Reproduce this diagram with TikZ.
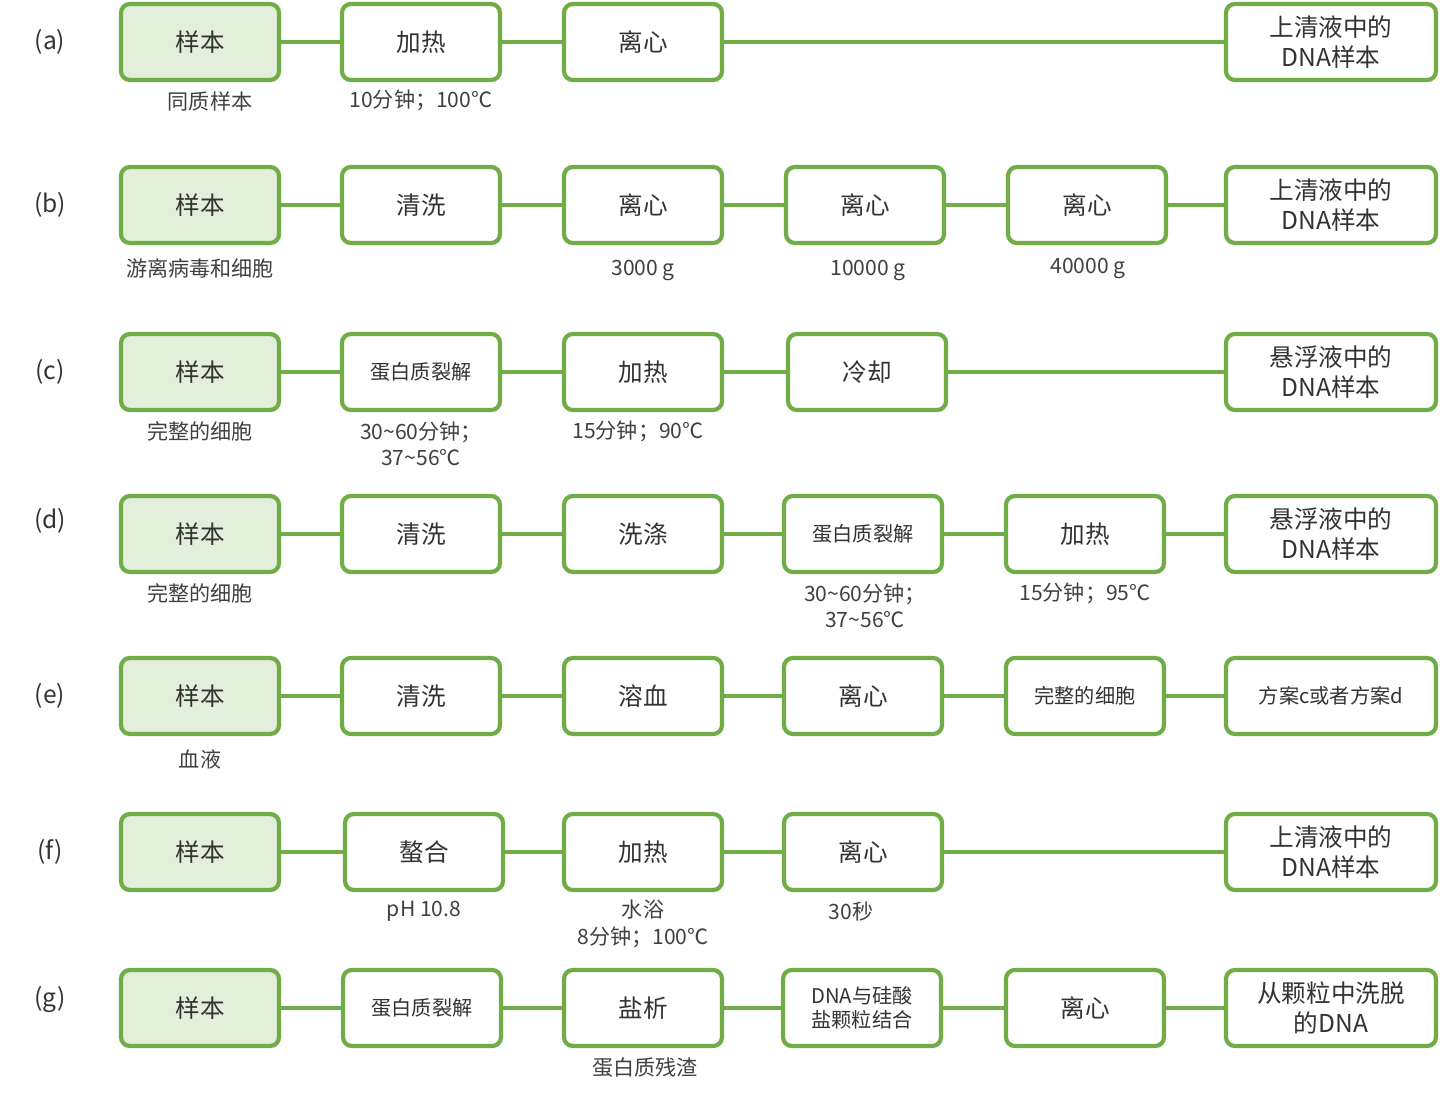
\documentclass[tikz,border=0pt]{standalone}
\usepackage{fontspec}
\setmainfont{Noto Sans CJK SC}
\usetikzlibrary{positioning}
\definecolor{stepgreen}{RGB}{112,173,71}
\definecolor{startfill}{RGB}{226,239,218}
\tikzset{
    stage/.style={draw=stepgreen, line width=2.4pt, rounded corners=5pt, fill=white,
        minimum width=3.16cm, minimum height=1.52cm, align=center, font=\fontsize{14}{16}\selectfont, text=black!80},
    small/.style={font=\fontsize{11.5}{13.5}\selectfont},
    start/.style={stage, fill=startfill},
    last/.style={stage, minimum width=4.2cm, font=\fontsize{14}{16.8}\selectfont},
    lbl/.style={align=center, font=\fontsize{12}{15}\selectfont, text=black!75},
    tag/.style={font=\fontsize{14}{16}\selectfont, text=black!80},
    link/.style={draw=stepgreen, line width=2.4pt}
}
\begin{document}
\begin{tikzpicture}[x=0.02cm, y=-0.02cm]
\useasboundingbox (0,0) rectangle (1440,1095);
% (a)
\node[tag] (ta) at (50,42) {(a)};
\node[start] (a1) at (200,42) {样本};
\node[stage] (a2) at (421,42) {加热};
\node[stage] (a3) at (643,42) {离心};
\node[last] (a6) at (1331,42) {上清液中的\\DNA样本};
\node[lbl] (la1) at (210,101) {同质样本};
\node[lbl] (la2) at (421,100) {10分钟；100℃};
\draw[link] (a1) -- (a2) (a2) -- (a3) (a3) -- (a6);
% (b)
\node[tag] (tb) at (50,205) {(b)};
\node[start] (b1) at (200,205) {样本};
\node[stage] (b2) at (421,205) {清洗};
\node[stage] (b3) at (643,205) {离心};
\node[stage] (b4) at (865,205) {离心};
\node[stage] (b5) at (1087,205) {离心};
\node[last] (b6) at (1331,205) {上清液中的\\DNA样本};
\node[lbl] (lb1) at (200,268) {游离病毒和细胞};
\node[lbl] (lb3) at (643,270) {3000 g};
\node[lbl] (lb4) at (868,270) {10000 g};
\node[lbl] (lb5) at (1088,268) {40000 g};
\draw[link] (b1) -- (b2) (b2) -- (b3) (b3) -- (b4) (b4) -- (b5) (b5) -- (b6);
% (c)
\node[tag] (tc) at (50,372) {(c)};
\node[start] (c1) at (200,372) {样本};
\node[stage, small] (c2) at (421,372) {蛋白质裂解};
\node[stage] (c3) at (643,372) {加热};
\node[stage] (c4) at (867,372) {冷却};
\node[last] (c6) at (1331,372) {悬浮液中的\\DNA样本};
\node[lbl] (lc1) at (200,431) {完整的细胞};
\node[lbl] (lc2) at (421,444) {30\textasciitilde60分钟；\\37\textasciitilde56℃};
\node[lbl] (lc3) at (638,431) {15分钟；90℃};
\draw[link] (c1) -- (c2) (c2) -- (c3) (c3) -- (c4) (c4) -- (c6);
% (d)
\node[tag] (td) at (50,521) {(d)};
\node[start] (d1) at (200,534) {样本};
\node[stage] (d2) at (421,534) {清洗};
\node[stage] (d3) at (643,534) {洗涤};
\node[stage, small] (d4) at (863,534) {蛋白质裂解};
\node[stage] (d5) at (1085,534) {加热};
\node[last] (d6) at (1331,534) {悬浮液中的\\DNA样本};
\node[lbl] (ld1) at (200,593) {完整的细胞};
\node[lbl] (ld4) at (865,606) {30\textasciitilde60分钟；\\37\textasciitilde56℃};
\node[lbl] (ld5) at (1085,593) {15分钟；95℃};
\draw[link] (d1) -- (d2) (d2) -- (d3) (d3) -- (d4) (d4) -- (d5) (d5) -- (d6);
% (e)
\node[tag] (te) at (50,696) {(e)};
\node[start] (e1) at (200,696) {样本};
\node[stage] (e2) at (421,696) {清洗};
\node[stage] (e3) at (643,696) {溶血};
\node[stage] (e4) at (863,696) {离心};
\node[stage, small] (e5) at (1085,696) {完整的细胞};
\node[last, small] (e6) at (1331,696) {方案c或者方案d};
\node[lbl] (le1) at (200,759) {血液};
\draw[link] (e1) -- (e2) (e2) -- (e3) (e3) -- (e4) (e4) -- (e5) (e5) -- (e6);
% (f)
\node[tag] (tf) at (50,852) {(f)};
\node[start] (f1) at (200,852) {样本};
\node[stage] (f2) at (424,852) {螯合};
\node[stage] (f3) at (643,852) {加热};
\node[stage] (f4) at (863,852) {离心};
\node[last] (f6) at (1331,852) {上清液中的\\DNA样本};
\node[lbl] (lf2) at (424,911) {pH 10.8};
\node[lbl] (lf3) at (643,924) {水浴\\8分钟；100℃};
\node[lbl] (lf4) at (851,911) {30秒};
\draw[link] (f1) -- (f2) (f2) -- (f3) (f3) -- (f4) (f4) -- (f6);
% (g)
\node[tag] (tg) at (50,1000) {(g)};
\node[start] (g1) at (200,1008) {样本};
\node[stage, small] (g2) at (422,1008) {蛋白质裂解};
\node[stage] (g3) at (643,1008) {盐析};
\node[stage, small] (g4) at (862,1008) {DNA与硅酸\\盐颗粒结合};
\node[stage] (g5) at (1085,1008) {离心};
\node[last] (g6) at (1331,1008) {从颗粒中洗脱\\的DNA};
\node[lbl] (lg3) at (645,1068) {蛋白质残渣};
\draw[link] (g1) -- (g2) (g2) -- (g3) (g3) -- (g4) (g4) -- (g5) (g5) -- (g6);
\end{tikzpicture}
\end{document}
